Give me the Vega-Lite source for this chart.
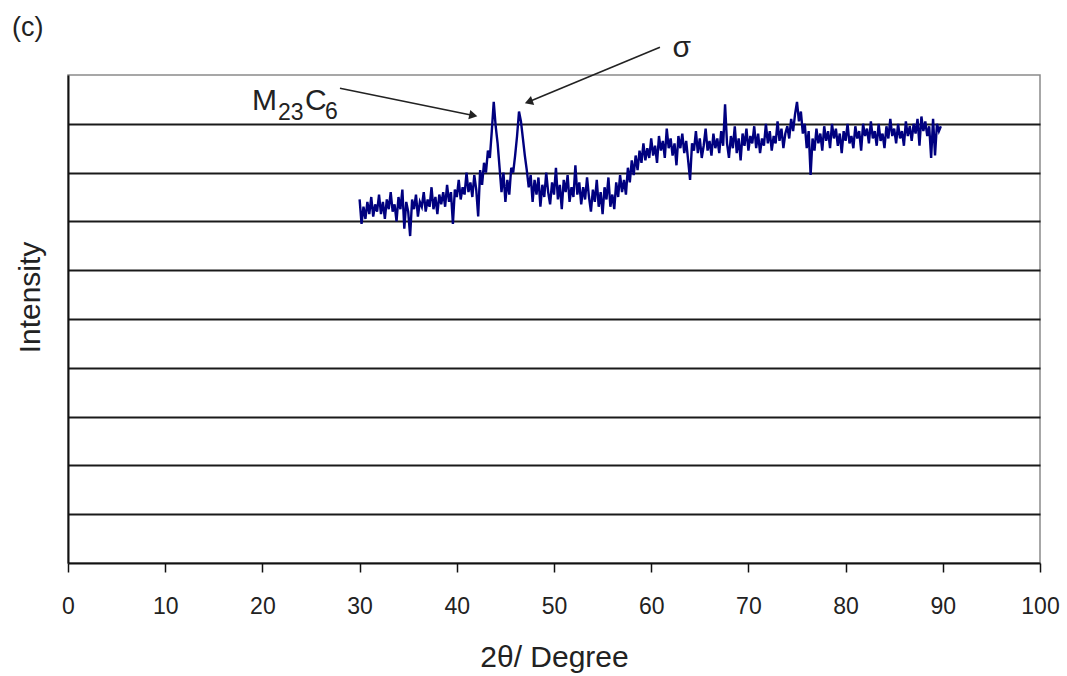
{
"$schema": "https://vega.github.io/schema/vega-lite/v6.json",
"width": 972, "height": 488,
"autosize": {"type": "none"},
"padding": {"left": 68, "top": 75, "right": 27, "bottom": 113},
"background": "white",
"config": {"view": {"stroke": "#8a8a8a", "strokeWidth": 1.5}, "font": "Liberation Sans"},
"datasets": {
"xrd": [
{"t":30.0,"i":7.45},{"t":30.2,"i":6.95},{"t":30.4,"i":7.3},{"t":30.6,"i":7.05},{"t":30.8,"i":7.4},{"t":31.0,"i":7.15},{"t":31.2,"i":7.5},{"t":31.4,"i":7.1},{"t":31.6,"i":7.35},{"t":31.8,"i":7.2},
{"t":32.0,"i":7.55},{"t":32.2,"i":7.15},{"t":32.4,"i":7.4},{"t":32.6,"i":7.05},{"t":32.8,"i":7.45},{"t":33.0,"i":7.25},{"t":33.2,"i":7.6},{"t":33.4,"i":7.2},{"t":33.6,"i":7.35},{"t":33.8,"i":7.0},
{"t":34.0,"i":7.5},{"t":34.2,"i":7.25},{"t":34.4,"i":7.65},{"t":34.6,"i":6.85},{"t":34.8,"i":7.4},{"t":35.0,"i":7.2},{"t":35.2,"i":6.7},{"t":35.4,"i":7.45},{"t":35.6,"i":7.25},{"t":35.8,"i":7.55},
{"t":36.0,"i":7.1},{"t":36.2,"i":7.4},{"t":36.4,"i":7.3},{"t":36.6,"i":7.6},{"t":36.8,"i":7.2},{"t":37.0,"i":7.45},{"t":37.2,"i":7.3},{"t":37.4,"i":7.7},{"t":37.6,"i":7.25},{"t":37.8,"i":7.5},
{"t":38.0,"i":7.15},{"t":38.2,"i":7.55},{"t":38.4,"i":7.35},{"t":38.6,"i":7.6},{"t":38.8,"i":7.3},{"t":39.0,"i":7.75},{"t":39.2,"i":7.4},{"t":39.4,"i":7.6},{"t":39.6,"i":6.95},{"t":39.8,"i":7.65},
{"t":40.0,"i":7.5},{"t":40.2,"i":7.85},{"t":40.4,"i":7.45},{"t":40.6,"i":7.7},{"t":40.8,"i":7.55},{"t":41.0,"i":8.0},{"t":41.2,"i":7.6},{"t":41.4,"i":7.8},{"t":41.6,"i":7.5},{"t":41.8,"i":7.95},
{"t":42.0,"i":7.65},{"t":42.2,"i":7.1},{"t":42.4,"i":8.05},{"t":42.6,"i":7.75},{"t":42.8,"i":8.2},{"t":43.0,"i":8.0},{"t":43.2,"i":8.45},{"t":43.4,"i":8.3},{"t":43.6,"i":8.85},{"t":43.8,"i":9.45},
{"t":44.0,"i":8.95},{"t":44.2,"i":8.6},{"t":44.4,"i":8.1},{"t":44.6,"i":7.6},{"t":44.8,"i":8.0},{"t":45.0,"i":7.4},{"t":45.2,"i":7.85},{"t":45.4,"i":7.55},{"t":45.6,"i":8.1},{"t":45.8,"i":8.0},
{"t":46.0,"i":8.35},{"t":46.2,"i":8.75},{"t":46.4,"i":9.25},{"t":46.6,"i":9.05},{"t":46.8,"i":8.7},{"t":47.0,"i":8.35},{"t":47.2,"i":8.05},{"t":47.4,"i":7.7},{"t":47.6,"i":7.95},{"t":47.8,"i":7.4},
{"t":48.0,"i":7.85},{"t":48.2,"i":7.55},{"t":48.4,"i":7.9},{"t":48.6,"i":7.3},{"t":48.8,"i":7.75},{"t":49.0,"i":7.5},{"t":49.2,"i":8.0},{"t":49.4,"i":7.6},{"t":49.6,"i":7.35},{"t":49.8,"i":7.8},
{"t":50.0,"i":7.55},{"t":50.2,"i":8.1},{"t":50.4,"i":7.45},{"t":50.6,"i":7.75},{"t":50.8,"i":7.25},{"t":51.0,"i":7.85},{"t":51.2,"i":7.6},{"t":51.4,"i":7.95},{"t":51.6,"i":7.4},{"t":51.8,"i":7.7},
{"t":52.0,"i":7.5},{"t":52.2,"i":8.15},{"t":52.4,"i":7.55},{"t":52.6,"i":7.8},{"t":52.8,"i":7.35},{"t":53.0,"i":7.7},{"t":53.2,"i":7.45},{"t":53.4,"i":7.9},{"t":53.6,"i":7.5},{"t":53.8,"i":7.2},
{"t":54.0,"i":7.65},{"t":54.2,"i":7.4},{"t":54.4,"i":7.85},{"t":54.6,"i":7.3},{"t":54.8,"i":7.6},{"t":55.0,"i":7.15},{"t":55.2,"i":7.7},{"t":55.4,"i":7.45},{"t":55.6,"i":7.9},{"t":55.8,"i":7.3},
{"t":56.0,"i":7.55},{"t":56.2,"i":7.25},{"t":56.4,"i":7.8},{"t":56.6,"i":7.5},{"t":56.8,"i":7.95},{"t":57.0,"i":7.6},{"t":57.2,"i":7.85},{"t":57.4,"i":7.55},{"t":57.6,"i":8.1},{"t":57.8,"i":7.8},
{"t":58.0,"i":8.25},{"t":58.2,"i":7.95},{"t":58.4,"i":8.35},{"t":58.6,"i":8.05},{"t":58.8,"i":8.45},{"t":59.0,"i":8.2},{"t":59.2,"i":8.6},{"t":59.4,"i":8.25},{"t":59.6,"i":8.5},{"t":59.8,"i":8.3},
{"t":60.0,"i":8.7},{"t":60.2,"i":8.35},{"t":60.4,"i":8.55},{"t":60.6,"i":8.2},{"t":60.8,"i":8.75},{"t":61.0,"i":8.45},{"t":61.2,"i":8.65},{"t":61.4,"i":8.3},{"t":61.6,"i":8.9},{"t":61.8,"i":8.5},
{"t":62.0,"i":8.7},{"t":62.2,"i":8.35},{"t":62.4,"i":8.6},{"t":62.6,"i":8.15},{"t":62.8,"i":8.75},{"t":63.0,"i":8.5},{"t":63.2,"i":8.8},{"t":63.4,"i":8.4},{"t":63.6,"i":8.65},{"t":63.8,"i":8.25},
{"t":64.0,"i":7.85},{"t":64.2,"i":8.6},{"t":64.4,"i":8.45},{"t":64.6,"i":8.85},{"t":64.8,"i":8.4},{"t":65.0,"i":8.7},{"t":65.2,"i":8.3},{"t":65.4,"i":8.55},{"t":65.6,"i":8.9},{"t":65.8,"i":8.45},
{"t":66.0,"i":8.65},{"t":66.2,"i":8.35},{"t":66.4,"i":8.8},{"t":66.6,"i":8.5},{"t":66.8,"i":8.7},{"t":67.0,"i":8.4},{"t":67.2,"i":8.85},{"t":67.4,"i":8.55},{"t":67.6,"i":9.4},{"t":67.8,"i":8.6},
{"t":68.0,"i":8.3},{"t":68.2,"i":8.75},{"t":68.4,"i":8.5},{"t":68.6,"i":8.95},{"t":68.8,"i":8.4},{"t":69.0,"i":8.7},{"t":69.2,"i":8.25},{"t":69.4,"i":8.8},{"t":69.6,"i":8.55},{"t":69.8,"i":8.9},
{"t":70.0,"i":8.45},{"t":70.2,"i":8.75},{"t":70.4,"i":8.6},{"t":70.6,"i":8.95},{"t":70.8,"i":8.5},{"t":71.0,"i":8.8},{"t":71.2,"i":8.4},{"t":71.4,"i":8.7},{"t":71.6,"i":8.55},{"t":71.8,"i":9.0},
{"t":72.0,"i":8.6},{"t":72.2,"i":8.85},{"t":72.4,"i":8.45},{"t":72.6,"i":8.75},{"t":72.8,"i":8.6},{"t":73.0,"i":9.05},{"t":73.2,"i":8.65},{"t":73.4,"i":8.9},{"t":73.6,"i":8.5},{"t":73.8,"i":8.8},
{"t":74.0,"i":8.95},{"t":74.2,"i":8.7},{"t":74.4,"i":9.1},{"t":74.6,"i":8.85},{"t":74.8,"i":9.2},{"t":75.0,"i":9.45},{"t":75.2,"i":9.05},{"t":75.4,"i":9.25},{"t":75.6,"i":8.8},{"t":75.8,"i":9.0},
{"t":76.0,"i":8.5},{"t":76.2,"i":8.85},{"t":76.4,"i":7.95},{"t":76.6,"i":8.7},{"t":76.8,"i":8.45},{"t":77.0,"i":8.9},{"t":77.2,"i":8.6},{"t":77.4,"i":8.8},{"t":77.6,"i":8.45},{"t":77.8,"i":8.95},
{"t":78.0,"i":8.65},{"t":78.2,"i":8.85},{"t":78.4,"i":8.5},{"t":78.6,"i":9.0},{"t":78.8,"i":8.7},{"t":79.0,"i":8.9},{"t":79.2,"i":8.55},{"t":79.4,"i":8.8},{"t":79.6,"i":8.4},{"t":79.8,"i":8.85},
{"t":80.0,"i":8.65},{"t":80.2,"i":9.0},{"t":80.4,"i":8.6},{"t":80.6,"i":8.75},{"t":80.8,"i":8.5},{"t":81.0,"i":8.95},{"t":81.2,"i":8.7},{"t":81.4,"i":8.85},{"t":81.6,"i":8.45},{"t":81.8,"i":9.0},
{"t":82.0,"i":8.75},{"t":82.2,"i":8.9},{"t":82.4,"i":8.6},{"t":82.6,"i":9.05},{"t":82.8,"i":8.7},{"t":83.0,"i":8.85},{"t":83.2,"i":8.55},{"t":83.4,"i":9.0},{"t":83.6,"i":8.65},{"t":83.8,"i":8.8},
{"t":84.0,"i":8.5},{"t":84.2,"i":8.95},{"t":84.4,"i":8.7},{"t":84.6,"i":9.1},{"t":84.8,"i":8.75},{"t":85.0,"i":8.9},{"t":85.2,"i":8.6},{"t":85.4,"i":9.0},{"t":85.6,"i":8.7},{"t":85.8,"i":8.85},
{"t":86.0,"i":8.55},{"t":86.2,"i":9.05},{"t":86.4,"i":8.75},{"t":86.6,"i":8.95},{"t":86.8,"i":8.65},{"t":87.0,"i":9.0},{"t":87.2,"i":8.8},{"t":87.4,"i":9.1},{"t":87.6,"i":8.55},{"t":87.8,"i":9.15},
{"t":88.0,"i":8.85},{"t":88.2,"i":9.05},{"t":88.4,"i":8.75},{"t":88.6,"i":8.95},{"t":88.8,"i":8.3},{"t":89.0,"i":9.1},{"t":89.2,"i":8.35},{"t":89.4,"i":9.0},{"t":89.6,"i":8.85},{"t":89.8,"i":8.95}
],
"paneltag": [{"x":-5.76,"y":10.8,"label":"(c)"}],
"bigtext": [
{"x":18.93,"y":9.28,"label":"M"},
{"x":24.38,"y":9.28,"label":"C"},
{"x":62.2,"y":10.36,"label":"σ"}
],
"smalltext": [
{"x":21.6,"y":9.08,"label":"23"},
{"x":26.44,"y":9.1,"label":"6"}
],
"arrow1": [{"x":27.98,"y":9.73,"x2":41.7,"y2":9.17}],
"arrow2": [{"x":60.9,"y":10.57,"x2":47.4,"y2":9.45}]
},
"layer": [
{
"data": {"name": "xrd"},
"mark": {"type": "line", "color": "#00007f", "strokeWidth": 2.4},
"encoding": {
"x": {"field": "t", "type": "quantitative", "scale": {"domain": [0, 100], "nice": false},
"axis": {"values": [0,10,20,30,40,50,60,70,80,90,100], "grid": false, "labelFlush": false, "labelOverlap": false, "domainColor": "#111", "domainWidth": 2, "tickColor": "#111", "tickSize": 9, "tickWidth": 1.5, "labelFontSize": 23, "labelColor": "#222", "labelPadding": 23, "title": "2θ/ Degree", "titleFontSize": 30, "titleFontWeight": "normal", "titleColor": "#222", "titlePadding": 24}},
"y": {"field": "i", "type": "quantitative", "scale": {"domain": [0, 10], "nice": false},
"axis": {"values": [1,2,3,4,5,6,7,8,9], "grid": true, "gridColor": "#1a1a1a", "gridWidth": 2, "labels": false, "ticks": false, "domainColor": "#111", "domainWidth": 2, "title": "Intensity", "titleFontSize": 30, "titleFontWeight": "normal", "titleColor": "#222", "titleAngle": -90, "titleAlign": "center", "titleBaseline": "middle", "titleX": -38, "titleY": 222}}
}
},
{
"data": {"name": "arrow1"},
"mark": {"type": "rule", "color": "#222", "strokeWidth": 1.6},
"encoding": {"x": {"field": "x", "type": "quantitative"}, "y": {"field": "y", "type": "quantitative"}, "x2": {"field": "x2"}, "y2": {"field": "y2"}}
},
{
"data": {"name": "arrow2"},
"mark": {"type": "rule", "color": "#222", "strokeWidth": 1.6},
"encoding": {"x": {"field": "x", "type": "quantitative"}, "y": {"field": "y", "type": "quantitative"}, "x2": {"field": "x2"}, "y2": {"field": "y2"}}
},
{
"data": {"name": "arrow1"},
"mark": {"type": "point", "shape": "triangle-right", "filled": true, "color": "#222", "size": 90, "angle": 12, "opacity": 1},
"encoding": {"x": {"field": "x2", "type": "quantitative"}, "y": {"field": "y2", "type": "quantitative"}}
},
{
"data": {"name": "arrow2"},
"mark": {"type": "point", "shape": "triangle-left", "filled": true, "color": "#222", "size": 90, "angle": 340, "opacity": 1},
"encoding": {"x": {"field": "x2", "type": "quantitative"}, "y": {"field": "y2", "type": "quantitative"}}
},
{
"data": {"name": "paneltag"},
"mark": {"type": "text", "fontSize": 27, "align": "left", "baseline": "alphabetic", "color": "#222"},
"encoding": {"x": {"field": "x", "type": "quantitative"}, "y": {"field": "y", "type": "quantitative"}, "text": {"field": "label"}}
},
{
"data": {"name": "bigtext"},
"mark": {"type": "text", "fontSize": 30, "align": "left", "baseline": "alphabetic", "color": "#222"},
"encoding": {"x": {"field": "x", "type": "quantitative"}, "y": {"field": "y", "type": "quantitative"}, "text": {"field": "label"}}
},
{
"data": {"name": "smalltext"},
"mark": {"type": "text", "fontSize": 23, "align": "left", "baseline": "alphabetic", "color": "#222"},
"encoding": {"x": {"field": "x", "type": "quantitative"}, "y": {"field": "y", "type": "quantitative"}, "text": {"field": "label"}}
}
]
}
